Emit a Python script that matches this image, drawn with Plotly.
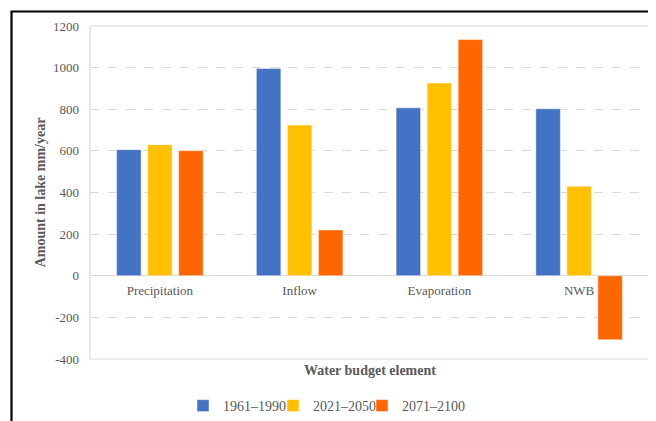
import plotly.graph_objects as go

categories = ["Precipitation", "Inflow", "Evaporation", "NWB"]
series_names = ["1961\u20131990", "2021\u20132050", "2071\u20132100"]
values_1961_1990 = [606, 996, 807, 802]
values_2021_2050 = [630, 724, 926, 430]
values_2071_2100 = [601, 220, 1135, -308]
colors = ["#4472C4", "#FFC000", "#FF6600"]
y_tick_values = [-400, -200, 0, 200, 400, 600, 800, 1000, 1200]
y_tick_labels = ["-400", "-200", "0", "200", "400", "600", "800", "1000", "1200"]

FONT = "Liberation Serif"
GREY = "#595959"

# the page body has an 8px default margin: work in reference pixels and shift
OFF = 8
W, H = 656 - OFF, 421 - OFF
PL, PR, PT, PB = 90, 649, 26, 359  # plot box in reference pixels
L, R, T, B = PL - OFF, W - (PR - OFF), PT - OFF, H - (PB - OFF)
pw, ph = W - L - R, H - T - B

def px_x(p):
    return (p - OFF - L) / pw

def px_y(p):
    return (H - B - (p - OFF)) / ph

legend_names = ["legend", "legend2", "legend3"]
legend_text_x = [223, 313, 402]

fig = go.Figure()
for name, vals, col, lg in zip(series_names,
                               [values_1961_1990, values_2021_2050, values_2071_2100],
                               colors, legend_names):
    fig.add_trace(go.Bar(x=categories, y=vals, name=name, legend=lg,
                         marker=dict(color=col, line=dict(color="rgba(255,255,255,0.6)", width=0.8))))

legend_common = dict(orientation="h", yanchor="middle", xanchor="left",
                     font=dict(family=FONT, size=14, color=GREY), itemwidth=30,
                     bgcolor="rgba(0,0,0,0)")
legends = {}
for lg, tx in zip(legend_names, legend_text_x):
    legends[lg] = dict(legend_common, x=px_x(tx - 40), y=px_y(406))

fig.update_layout(
    width=W, height=H,
    margin=dict(l=L, r=R, t=T, b=B, autoexpand=False),
    paper_bgcolor="white", plot_bgcolor="white",
    font=dict(family=FONT, color=GREY, size=13),
    barmode="group", bargap=0.334, bargroupgap=0.21,
    xaxis=dict(anchor="free", position=0.25, showline=False, ticks="",
               tickfont=dict(family=FONT, size=13, color=GREY), showgrid=False,
               automargin=False, ticklabelstandoff=5),
    yaxis=dict(range=[-400, 1200], tickmode="array", tickvals=y_tick_values,
               ticktext=y_tick_labels, showgrid=True, gridcolor="#d9d9d9",
               griddash="dash", gridwidth=1, zeroline=True, zerolinecolor="#d9d9d9",
               zerolinewidth=1, tickfont=dict(family=FONT, size=13, color=GREY), ticks="",
               automargin=False, ticklabelstandoff=10,
               title=dict(text="<b>Amount in lake mm/year</b>",
                          font=dict(family=FONT, size=14, color=GREY), standoff=4)),
    showlegend=True,
    **legends,
)

fig.add_annotation(text="<b>Water budget element</b>", xref="paper", yref="paper",
                   x=0.5, y=px_y(370), showarrow=False,
                   font=dict(size=14, color=GREY, family=FONT), yanchor="middle")

# plot-area border
fig.add_shape(type="rect", xref="paper", yref="paper", x0=0, x1=1, y0=0, y1=1,
              line=dict(color="#d9d9d9", width=1.2), layer="below")
# outer black frame (cropped at right/bottom)
fig.add_shape(type="rect", xref="paper", yref="paper",
              x0=px_x(11.5), x1=px_x(720), y0=px_y(480), y1=px_y(11.5),
              line=dict(color="black", width=2.2))

fig.write_html("out.html")
